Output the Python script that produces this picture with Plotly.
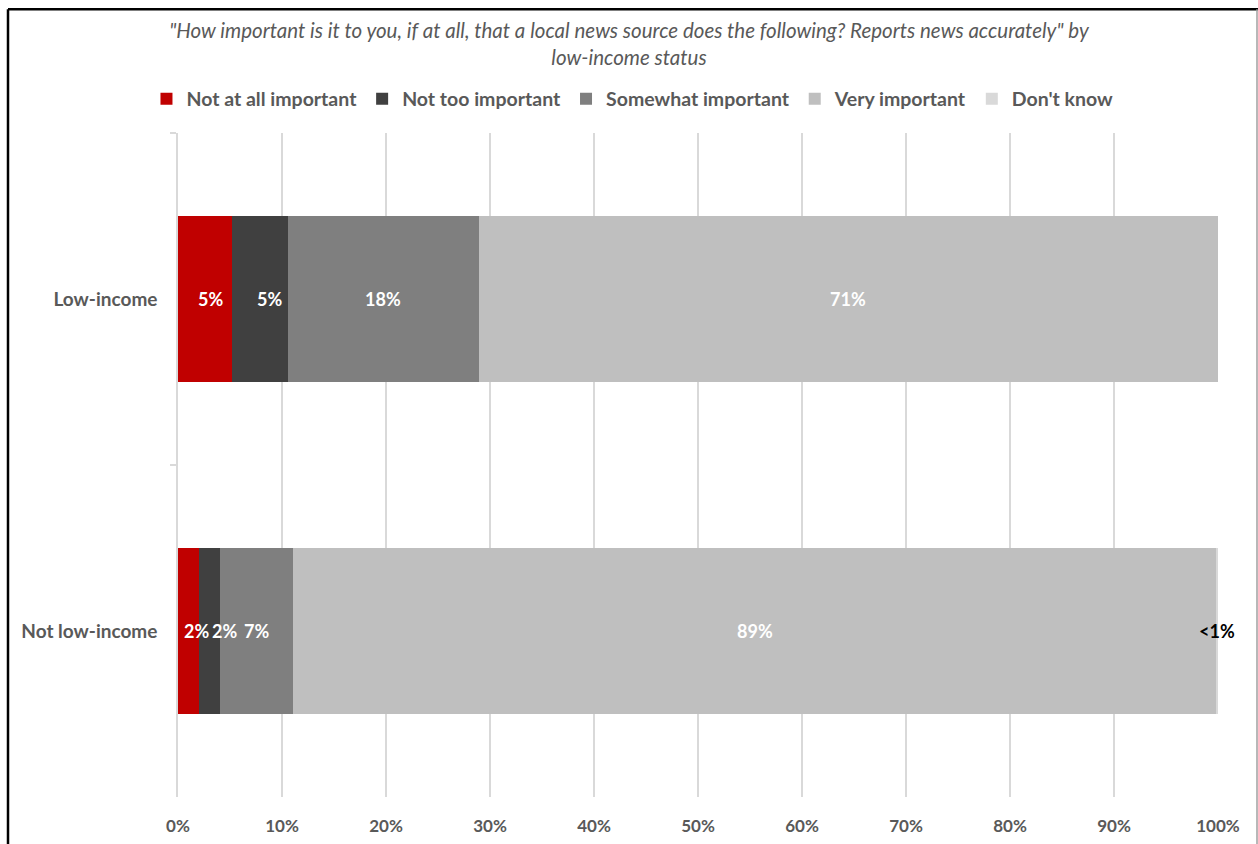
import plotly.graph_objects as go

# Survey responses by low-income status (percent of respondents)
groups = ["Low-income", "Not low-income"]
responses = ["Not at all important", "Not too important", "Somewhat important",
             "Very important", "Don't know"]
not_at_all = [5.2, 2.0]
not_too = [5.4, 2.0]
somewhat = [18.3, 7.1]
very = [71.1, 88.7]
dont_know = [0.0, 0.2]

series = [not_at_all, not_too, somewhat, very, dont_know]
colors = ["#C00000", "#404040", "#7F7F7F", "#BFBFBF", "#D9D9D9"]
label_colors = ["#FFFFFF", "#FFFFFF", "#FFFFFF", "#FFFFFF", "#000000"]

FONT = "Lato, Calibri, sans-serif"
GREY_TXT = "#595959"

# small horizontal nudges (px) so labels of narrow segments don't collide
LABEL_NUDGE = {
    (0, 0): 5, (0, 1): 9,
    (1, 0): 8, (1, 1): 15,
}


def label(v):
    if v <= 0:
        return ""
    if v < 1:
        return "<1%"
    return f"{v:.0f}%"


fig = go.Figure()
for name, vals, col in zip(responses, series, colors):
    fig.add_trace(go.Bar(
        name=name,
        y=groups,
        x=vals,
        orientation="h",
        marker=dict(color=col, line=dict(width=0)),
        hoverinfo="skip",
    ))

# value labels centred on each segment
for gi, g in enumerate(groups):
    left = 0.0
    for si, (vals, lcol) in enumerate(zip(series, label_colors)):
        v = vals[gi]
        txt = label(v)
        if txt:
            fig.add_annotation(
                x=left + v / 2, y=g, xref="x", yref="y",
                text=txt, showarrow=False,
                xshift=LABEL_NUDGE.get((gi, si), 0),
                font=dict(family=FONT, size=18, color=lcol, weight="bold"),
            )
        left += v

fig.update_layout(
    width=1258,
    height=844,
    barmode="stack",
    bargap=0.5,
    paper_bgcolor="white",
    plot_bgcolor="white",
    margin=dict(l=178, r=40, t=133, b=47, autoexpand=False),
    font=dict(family=FONT, color=GREY_TXT),
    title=dict(
        text='"How important is it to you, if at all, that a local news source does the following? Reports news accurately" by<br>low-income status',
        x=0.5, xref="container", xanchor="center",
        y=1 - 38 / 844, yanchor="middle",
        font=dict(family=FONT, size=20.5, color=GREY_TXT, style="italic"),
    ),
    legend=dict(
        orientation="h",
        x=0.437, xanchor="center",
        y=1.051, yanchor="middle",
        font=dict(family=FONT, size=19.5, color=GREY_TXT, weight="bold"),
        traceorder="normal",
        itemclick=False,
    ),
    xaxis=dict(
        range=[0, 100],
        dtick=10,
        ticksuffix="%",
        showgrid=True,
        gridcolor="#D9D9D9",
        gridwidth=1.5,
        zeroline=False,
        showline=False,
        ticks="",
        tickfont=dict(family=FONT, size=17, color=GREY_TXT, weight="bold"),
        ticklabelstandoff=17,
        fixedrange=True,
    ),
    yaxis=dict(
        autorange="reversed",
        showline=True,
        linecolor="#D9D9D9",
        linewidth=1.5,
        ticks="outside",
        tickson="boundaries",
        ticklen=6,
        tickcolor="#D9D9D9",
        tickwidth=1.5,
        showgrid=False,
        tickfont=dict(family=FONT, size=19, color=GREY_TXT, weight="bold"),
        ticklabelstandoff=15,
        fixedrange=True,
    ),
)

# Outer frame of the chart area
px_x = lambda p: (p - 178) / 1040
px_y = lambda p: (797 - p) / 665
fig.add_shape(type="line", xref="paper", yref="paper",
              x0=px_x(8), x1=px_x(1260), y0=px_y(8), y1=px_y(8),
              line=dict(color="#000000", width=2.5))
fig.add_shape(type="line", xref="paper", yref="paper",
              x0=px_x(8), x1=px_x(8), y0=px_y(8), y1=px_y(860),
              line=dict(color="#000000", width=2.5))
fig.add_shape(type="line", xref="paper", yref="paper",
              x0=px_x(1257), x1=px_x(1257), y0=px_y(8), y1=px_y(860),
              line=dict(color="#A0A0A0", width=1.5))

fig.write_html("out.html")
